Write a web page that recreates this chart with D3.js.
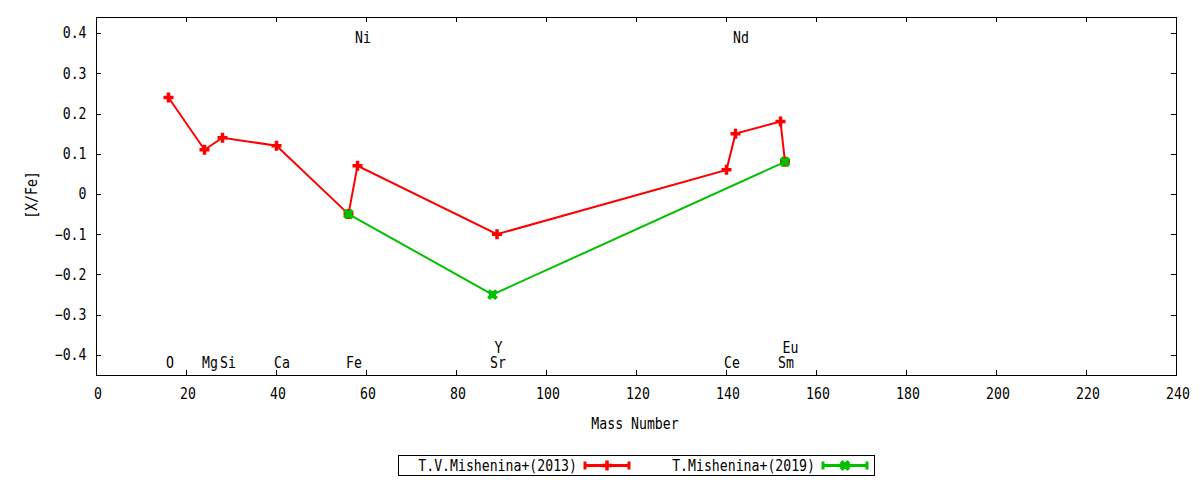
<!DOCTYPE html>
<html>
<head>
<meta charset="utf-8">
<script src="https://cdn.jsdelivr.net/npm/d3@7"></script>
<style>
    body { margin: 0; background: #fff; }
    text { font-family: "DejaVu Sans Mono", monospace; fill: #000; }
</style>
</head>
<body>
<div id="chart"></div>
<script>
// Données
const mishenina2013Mass = [16, 24, 28, 40, 56, 58, 89, 140, 142, 152, 153];
const mishenina2013Value = [0.24, 0.11, 0.14, 0.12, -0.05, 0.07, -0.10, 0.06, 0.15, 0.18, 0.08];
const mishenina2019Mass = [56, 88, 153];
const mishenina2019Value = [-0.05, -0.25, 0.08];

// Étiquettes des éléments (position en nombre de masse, hauteur en [X/Fe])
const elementNames = ["O", "Mg", "Si", "Ca", "Fe", "Sr", "Ce", "Sm", "Y", "Eu", "Ni", "Nd"];
const elementMass = [16, 24, 28, 40, 56, 88, 140, 152, 89, 153, 58, 142];
const elementLevel = [-0.42, -0.42, -0.42, -0.42, -0.42, -0.42, -0.42, -0.42, -0.383, -0.383, 0.388, 0.388];

const xTicks = [0, 20, 40, 60, 80, 100, 120, 140, 160, 180, 200, 220, 240];
const yTicks = [-0.4, -0.3, -0.2, -0.1, 0, 0.1, 0.2, 0.3, 0.4];
const seriesNames = ["T.V.Mishenina+(2013)", "T.Mishenina+(2019)"];

const COLOR_2013 = "#ff0000",
    COLOR_2019 = "#00c000";

const W = 1200, H = 480;
const margin = { top: 17, right: 24, bottom: 105, left: 96 };
const width = W - margin.left - margin.right;
const height = H - margin.top - margin.bottom;

const svg = d3.select("#chart").append("svg")
    .attr("width", W)
    .attr("height", H);

const x = d3.scaleLinear().domain([0, 240]).range([margin.left + 0.5, margin.left + 0.5 + width]);
const y = d3.scaleLinear().domain([-0.45, 0.44]).range([margin.top + height, margin.top]);

// texte monospace un peu étiré en hauteur
function label(g, px, py, str, anchor, rot) {
    return g.append("text")
        .attr("transform", `translate(${px},${py})${rot ? " rotate(" + rot + ")" : ""} scale(0.88,1)`)
        .attr("text-anchor", anchor || "middle")
        .attr("dominant-baseline", "central")
        .style("font-size", "15px")
        .text(str);
}

// Cadre et graduations (style gnuplot, graduations vers l'intérieur et en miroir)
const frame = svg.append("g");
frame.append("rect")
    .attr("x", margin.left + 0.5).attr("y", margin.top + 0.5)
    .attr("width", width).attr("height", height)
    .attr("fill", "none").attr("stroke", "#000").attr("stroke-width", 1);

xTicks.forEach(t => {
    const px = Math.round(x(t) - 0.5) + 0.5;
    frame.append("line").attr("x1", px).attr("x2", px)
        .attr("y1", margin.top + height).attr("y2", margin.top + height - 5).attr("stroke", "#000");
    frame.append("line").attr("x1", px).attr("x2", px)
        .attr("y1", margin.top).attr("y2", margin.top + 5).attr("stroke", "#000");
    label(frame, x(t) + 1.5, 394, d3.format("d")(t));
});

yTicks.forEach(t => {
    const py = Math.round(y(t)) + 0.5;
    frame.append("line").attr("x1", margin.left).attr("x2", margin.left + 5)
        .attr("y1", py).attr("y2", py).attr("stroke", "#000");
    frame.append("line").attr("x1", margin.left + width).attr("x2", margin.left + width - 5)
        .attr("y1", py).attr("y2", py).attr("stroke", "#000");
    label(frame, 86.5, y(t), t === 0 ? "0" : d3.format(".1f")(t), "end");
});

label(svg, 32, 195, "[X/Fe]", "middle", -90);
label(svg, 635, 424, "Mass Number");

// Étiquettes des éléments
elementNames.forEach((n, i) => {
    label(svg, x(elementMass[i]) - 2.5, y(elementLevel[i]), n, "start");
});

// Marqueurs
function plusMarker(g, px, py, color, s) {
    g.append("path")
        .attr("d", `M${px - s},${py}H${px + s}M${px},${py - s}V${py + s}`)
        .attr("stroke", color).attr("stroke-width", 3.5).attr("fill", "none");
}
function crossMarker(g, px, py, color, s) {
    g.append("path")
        .attr("d", `M${px - s},${py - s}L${px + s},${py + s}M${px - s},${py + s}L${px + s},${py - s}`)
        .attr("stroke", color).attr("stroke-width", 4).attr("fill", "none");
    g.append("rect").attr("x", px - 3.5).attr("y", py - 3.5).attr("width", 7).attr("height", 7).attr("fill", color);
}

const line = d3.line().x(d => x(d[0])).y(d => y(d[1]));
const data2013 = mishenina2013Mass.map((m, i) => [m, mishenina2013Value[i]]);
const data2019 = mishenina2019Mass.map((m, i) => [m, mishenina2019Value[i]]);

const plot = svg.append("g");
plot.append("path").datum(data2013).attr("d", line)
    .attr("fill", "none").attr("stroke", COLOR_2013).attr("stroke-width", 2);
data2013.forEach(d => plusMarker(plot, x(d[0]), y(d[1]), COLOR_2013, 5));

plot.append("path").datum(data2019).attr("d", line)
    .attr("fill", "none").attr("stroke", COLOR_2019).attr("stroke-width", 2);
data2019.forEach(d => crossMarker(plot, x(d[0]), y(d[1]), COLOR_2019, 4));

// Légende
const legend = svg.append("g");
legend.append("rect")
    .attr("x", 398.5).attr("y", 455.5).attr("width", 476).attr("height", 20)
    .attr("fill", "none").attr("stroke", "#000");

const legendX = [585, 823];
const legendColors = [COLOR_2013, COLOR_2019];
seriesNames.forEach((n, i) => {
    const x0 = legendX[i], x1 = x0 + 44, ly = 465.5, xm = (x0 + x1) / 2;
    label(legend, x0 - 8, ly, n, "end");
    legend.append("path")
        .attr("d", `M${x0},${ly}H${x1}M${x0},${ly - 4}V${ly + 4}M${x1},${ly - 4}V${ly + 4}`)
        .attr("stroke", legendColors[i]).attr("stroke-width", 3).attr("fill", "none");
    if (i === 0) plusMarker(legend, xm, ly, legendColors[i], 5);
    else crossMarker(legend, xm, ly, legendColors[i], 4);
});
</script>
</body>
</html>
